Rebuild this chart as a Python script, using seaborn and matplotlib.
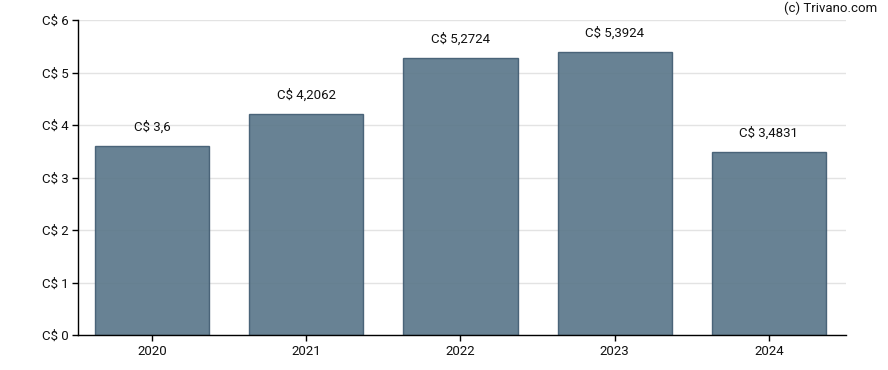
import matplotlib
matplotlib.use("Agg")
import matplotlib.pyplot as plt
import seaborn as sns
import pandas as pd

years = ["2020", "2021", "2022", "2023", "2024"]
values = [3.6, 4.2062, 5.2724, 5.3924, 3.4831]
labels = ["C$ 3,6", "C$ 4,2062", "C$ 5,2724", "C$ 5,3924", "C$ 3,4831"]
yticks = [0, 1, 2, 3, 4, 5, 6]

sns.set_style("white")
plt.rcParams["font.family"] = ["Roboto", "DejaVu Sans"]

df = pd.DataFrame({"year": years, "value": values})

fig = plt.figure(figsize=(8.88, 3.70), dpi=100)
ax = fig.add_axes([78 / 888, 35 / 370, (846 - 78) / 888, (335 - 20) / 370])

sns.barplot(data=df, x="year", y="value", ax=ax, color="#587588",
            width=0.74, saturation=1, alpha=0.9,
            edgecolor="#3f5a70", linewidth=1)

ax.set_axisbelow(True)
ax.yaxis.grid(True, color="#e3e3e3", linewidth=1)
ax.xaxis.grid(False)

for i, (v, lab) in enumerate(zip(values, labels)):
    ax.annotate(lab, (i, v), xytext=(0, 9), textcoords="offset points",
                ha="center", va="bottom", fontsize=9.5, color="#111111")

ax.set_ylim(0, 6)
ax.set_xlim(-0.48, 4.5)
ax.set_yticks(yticks)
ax.set_yticklabels([f"C$ {t}" for t in yticks])
ax.set_xlabel("")
ax.set_ylabel("")

for s in ["top", "right"]:
    ax.spines[s].set_visible(False)
for s in ["left", "bottom"]:
    ax.spines[s].set_color("black")
    ax.spines[s].set_linewidth(1)

ax.tick_params(axis="both", which="both", length=4, width=1, color="black",
               labelsize=9.5, labelcolor="#111111", left=True, bottom=True, pad=3)

fig.text(877 / 888, 1 - 8 / 370, "(c) Trivano.com", ha="right", va="center",
         fontsize=9.5, color="#111111")

fig.savefig("out.png", dpi=100)
